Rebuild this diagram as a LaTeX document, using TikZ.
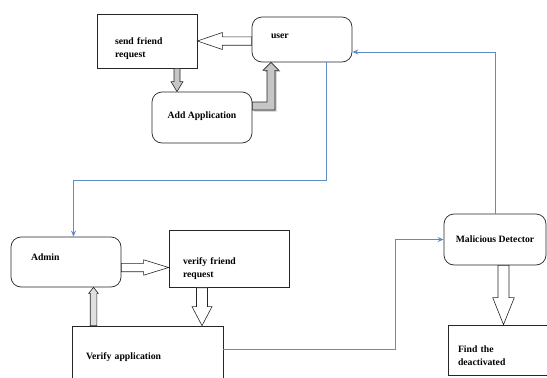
\documentclass[tikz,border=0pt]{standalone}
\usepackage{fontspec}
\setmainfont{Liberation Serif}
\usetikzlibrary{calc,arrows.meta,shadows}

\definecolor{flowblue}{RGB}{96,140,198}

\tikzset{
  sqbox/.style={draw=black!85, line width=0.7pt, fill=white, inner ysep=0pt,
    font=\fontsize{9.7}{12.5}\selectfont\bfseries, align=left},
  rndbox/.style={sqbox, rounded corners=10pt},
  hollowarrow/.style={draw=black!85, line width=0.6pt, fill=white},
  grayarrow/.style={draw=black!85, line width=0.6pt, fill=gray!45},
  flow/.style={draw=flowblue, line width=1pt, -{Stealth[length=6pt,width=5pt]}},
}

% block arrow: [style]{start}{end}{shaft half width}{head half width}{head length}
\newcommand{\blockarrow}[6][]{%
  \coordinate (ba-s) at #2;
  \coordinate (ba-e) at #3;
  \pgfmathsetmacro\baShaft{veclen(#6,#4)}%
  \pgfmathsetmacro\baShaftAng{atan2(#4,#6)}%
  \pgfmathsetmacro\baHead{veclen(#6,#5)}%
  \pgfmathsetmacro\baHeadAng{atan2(#5,#6)}%
  \draw[#1] ($(ba-s)!#4pt!90:(ba-e)$) -- ($(ba-e)!\baShaft pt!-\baShaftAng:(ba-s)$)
    -- ($(ba-e)!\baHead pt!-\baHeadAng:(ba-s)$) -- (ba-e)
    -- ($(ba-e)!\baHead pt!\baHeadAng:(ba-s)$) -- ($(ba-e)!\baShaft pt!\baShaftAng:(ba-s)$)
    -- ($(ba-s)!#4pt!-90:(ba-e)$) -- cycle;}

\begin{document}
\begin{tikzpicture}[x=1pt, y=-1pt]
  \clip (0,0) rectangle (547,378);
  % user side
  \node[sqbox, minimum width=100pt, minimum height=54pt, inner xsep=18pt, text width=64pt,
    text height=21.6pt] (send) at (147,41) {send friend\\request};
  \node[rndbox, minimum width=100pt, minimum height=45pt, inner xsep=19pt, text width=62pt,
    text depth=7pt] (user) at (302,39.5) {user};
  \node[rndbox, minimum width=100pt, minimum height=51pt, align=center,
    text depth=5.7pt] (addapp) at (202,117.5) {Add Application};
  % admin side
  \node[rndbox, minimum width=110pt, minimum height=50pt, inner xsep=20pt, text width=70pt,
    text depth=9pt] (admin) at (66,262) {Admin};
  \node[sqbox, minimum width=120pt, minimum height=57pt, inner xsep=14pt, text width=92pt,
    text height=25.6pt] (verifyfr) at (229,259) {verify friend\\request};
  \node[sqbox, minimum width=151pt, minimum height=62pt, inner xsep=14pt,
    text width=123pt] (verifyapp) at (147.5,357) {Verify application};
  % detector side
  \node[rndbox, minimum width=102pt, minimum height=51pt, align=center] (malicious) at (495,239.5)
    {Malicious Detector};
  \node[sqbox, minimum width=113pt, minimum height=50pt, inner xsep=10pt, text width=93pt,
    text height=17.6pt] (find) at (504.5,350) {Find the\\deactivated};

  % block arrows
  \blockarrow[hollowarrow]{(user.west |- send.east)}{(send.east)}{4.2}{8.5}{25}
  \blockarrow[grayarrow]{($(send.south)+(30,0)$)}{($(addapp.north)+(-25,0)$)}{3}{6}{10}
  \coordinate (ea) at ($(addapp.east)+(0,-11.5)$);
  \coordinate (eb) at ($(user.south)+(-31,0)$);
  \draw[grayarrow, drop shadow={shadow xshift=1.5pt, shadow yshift=-1.5pt, opacity=0.45}]
    ($(ea)+(0,-4)$) -- ($(ea -| eb)+(-4,-4)$) -- ($(eb)+(-4,8)$) -- ($(eb)+(-8,8)$) -- (eb)
    -- ($(eb)+(8,8)$) -- ($(eb)+(4,8)$) -- ($(ea -| eb)+(4,4)$) -- ($(ea)+(0,4)$) -- cycle;
  \blockarrow[hollowarrow]{($(admin.east)+(0,5.5)$)}{($(verifyfr.west)+(0,8.5)$)}{4.2}{7.7}{25}
  \blockarrow[hollowarrow]{($(verifyfr.south)+(-27,0)$)}{($(verifyapp.north)+(54.5,0)$)}{5.5}{10}{19}
  \blockarrow[grayarrow, fill=gray!25]{($(verifyapp.north)+(-54,0)$)}{($(admin.south)+(27.5,0)$)}{3.3}{4.8}{6}
  \blockarrow[hollowarrow]{($(malicious.south)+(8.5,0)$)}{($(find.north)+(-1,0)$)}{5.5}{10.8}{27}

  % flow lines
  \draw[flow] ($(user.south)+(24,0)$) -- ++(0,118) -| ($(admin.north)+(7.5,0)$);
  \draw[flow] ($(verifyapp.east)+(0,-8)$) -- ++(172,0) |- (malicious.west);
  \draw[flow] (malicious.north) |- ($(user.east)+(0,12.5)$);
\end{tikzpicture}
\end{document}
